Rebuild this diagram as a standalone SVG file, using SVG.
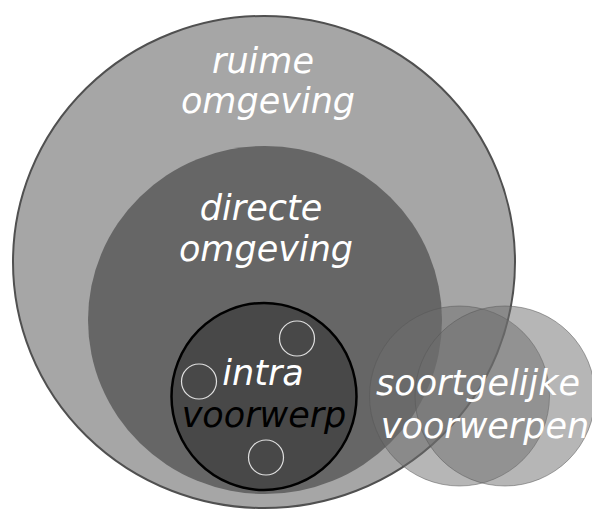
<svg xmlns="http://www.w3.org/2000/svg" width="592" height="510" viewBox="0 0 592 510">
<style>
text{font-family:"DejaVu Sans","Verdana",sans-serif;font-style:italic;font-size:35px;text-anchor:middle;fill:#fff}
.dark{fill:#000}
.small{fill:none;stroke:#e0e0e0;stroke-width:1.2}
.sim{fill:#6e6e6e;fill-opacity:0.5;stroke:#555;stroke-opacity:0.5;stroke-width:1}
</style>
<rect width="592" height="510" fill="#fff"/>
<g id="ruime">
<ellipse cx="264" cy="262" rx="251" ry="246" fill="#a6a6a6" stroke="#505050" stroke-width="2"/>
<text x="263" y="73">ruime</text>
<text x="268" y="113">omgeving</text>
</g>
<g id="directe">
<ellipse cx="265" cy="320" rx="177" ry="174" fill="#666666"/>
<text x="261" y="220">directe</text>
<text x="266" y="261">omgeving</text>
</g>
<g id="intra">
<ellipse cx="264" cy="396.5" rx="92.5" ry="93.5" fill="#484848" stroke="#000" stroke-width="2.5"/>
<circle class="small" cx="297" cy="338.5" r="17.5"/>
<circle class="small" cx="199" cy="381.5" r="17.5"/>
<circle class="small" cx="266" cy="457.5" r="17.5"/>
<text x="263" y="385">intra</text>
<text class="dark" x="264" y="427">voorwerp</text>
</g>
<g id="soortgelijke">
<circle class="sim" cx="459.5" cy="396" r="90"/>
<circle class="sim" cx="505" cy="396" r="90"/>
<text x="478" y="395">soortgelijke</text>
<text x="485" y="438">voorwerpen</text>
</g>
<g id="connectors"/>
</svg>
